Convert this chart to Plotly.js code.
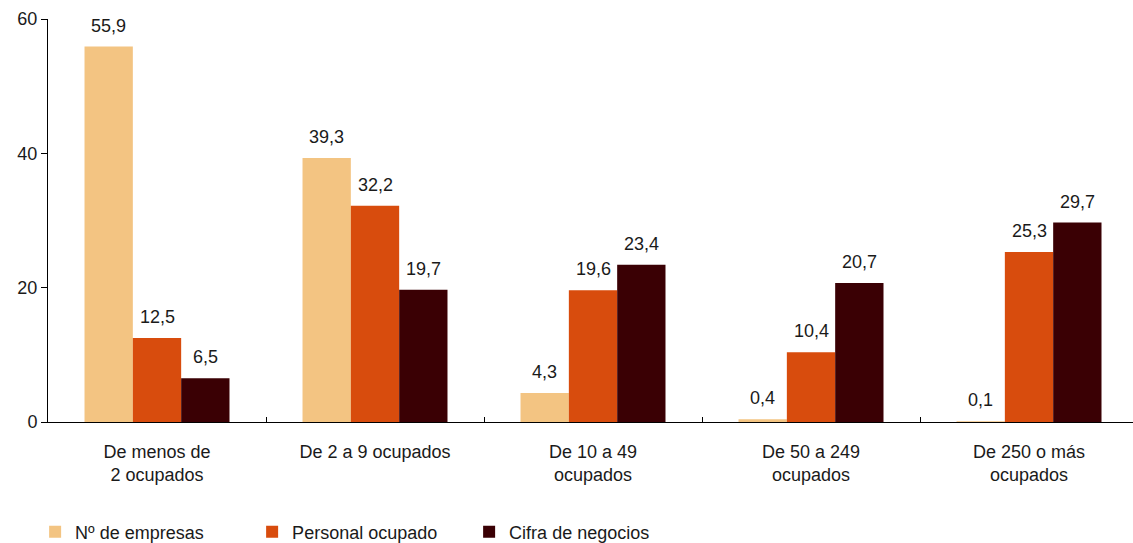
<!DOCTYPE html>
<html><head><meta charset="utf-8">
<script src="https://cdn.plot.ly/plotly-3.0.1.min.js"></script>
<style>html,body{margin:0;padding:0;background:#fff}#chart{width:1133px;height:543px}</style>
</head><body><div id="chart"></div>
<script>
const categories = ["De menos de<br>2 ocupados","De 2 a 9 ocupados","De 10 a 49<br>ocupados","De 50 a 249<br>ocupados","De 250 o más<br>ocupados"];
const seriesNames = ["Nº de empresas","Personal ocupado","Cifra de negocios"];
const empresas = [55.9, 39.3, 4.3, 0.4, 0.1];
const personal = [12.5, 32.2, 19.6, 10.4, 25.3];
const cifra = [6.5, 19.7, 23.4, 20.7, 29.7];
const yTicks = [0, 20, 40, 60];

const colors = ["#F3C482", "#D84C0D", "#3A0004"];
const series = [empresas, personal, cifra];
const bargap = 0.335;
const font = "Liberation Sans, Arial, sans-serif";

const traces = series.map((vals, j) => ({
  type: "bar", name: seriesNames[j], x: categories, y: vals,
  marker: {color: colors[j], line: {width: 0}},
  hoverinfo: "skip"
}));

const w = (1 - bargap) / 3;
const annotations = [];
series.forEach((vals, j) => {
  vals.forEach((v, i) => {
    annotations.push({
      xref: "x", yref: "y", x: i + (j - 1) * w, y: v,
      text: v.toFixed(1).replace(".", ","), showarrow: false,
      yanchor: "bottom", yshift: 9,
      font: {family: font, size: 18, color: "#1a1a1a"}
    });
  });
});

const layout = {
  width: 1133, height: 543,
  margin: {l: 48, r: 0, t: 19, b: 121, autoexpand: false},
  paper_bgcolor: "#fff", plot_bgcolor: "#fff",
  font: {family: font, size: 18, color: "#1a1a1a"},
  barmode: "group", bargap: bargap, bargroupgap: 0,
  separators: ", ",
  showlegend: true,
  legend: {orientation: "h", xref: "container", x: 0.031, xanchor: "left",
           yref: "container", y: 0.02, yanchor: "middle",
           font: {family: font, size: 18, color: "#1a1a1a"}, entrywidth: 172, itemwidth: 30,
           traceorder: "normal"},
  xaxis: {type: "category", range: [-0.5, 4.477], showline: true, linecolor: "#000", linewidth: 1,
          ticks: "inside", ticklen: 5, tickcolor: "#000", tickson: "boundaries",
          ticklabelstandoff: 13, showgrid: false, zeroline: false, fixedrange: true},
  yaxis: {range: [0, 60], tickvals: yTicks, showline: true, linecolor: "#000", linewidth: 1,
          ticks: "outside", ticklen: 6, tickcolor: "#000", showgrid: false, zeroline: false,
          fixedrange: true},
  annotations: annotations
};

Plotly.newPlot("chart", traces, layout, {displayModeBar: false, staticPlot: true});
</script></body></html>
